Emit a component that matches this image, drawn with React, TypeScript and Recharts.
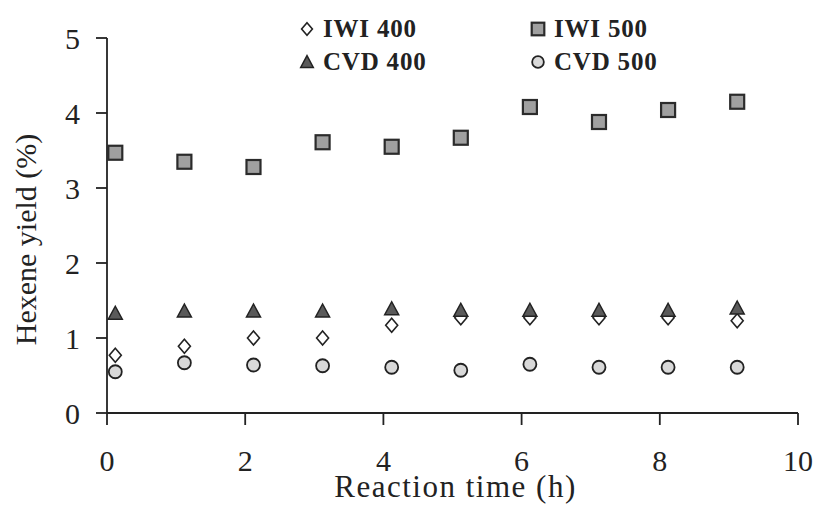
import React from "react";
import { ScatterChart, Scatter, XAxis, YAxis, Legend } from "recharts";

// reaction time (h) of each sample
const times = [0.12, 1.12, 2.12, 3.12, 4.12, 5.12, 6.12, 7.12, 8.12, 9.12];

// hexene yield (%)
const iwi400 = [0.77, 0.89, 1.0, 1.0, 1.17, 1.27, 1.27, 1.27, 1.27, 1.23];
const iwi500 = [3.47, 3.35, 3.28, 3.61, 3.55, 3.67, 4.08, 3.88, 4.04, 4.15];
const cvd400 = [1.33, 1.36, 1.36, 1.36, 1.39, 1.37, 1.37, 1.37, 1.37, 1.4];
const cvd500 = [0.55, 0.67, 0.64, 0.63, 0.61, 0.57, 0.65, 0.61, 0.61, 0.61];

const xTicks = [0, 2, 4, 6, 8, 10];
const yTicks = [0, 1, 2, 3, 4, 5];

const FONT = "Liberation Serif";
const INK = "#222";

function rows(ys: number[]) {
  return times.map((t, i) => ({ t, y: ys[i] }));
}

function Diamond({ cx, cy, s = 1 }: any) {
  return (
    <polygon
      points={`${cx},${cy - 7 * s} ${cx + 6 * s},${cy} ${cx},${cy + 7 * s} ${cx - 6 * s},${cy}`}
      fill="#fff"
      stroke={INK}
      strokeWidth={1.6}
    />
  );
}

function Square({ cx, cy, s = 1 }: any) {
  const h = 7 * s;
  return (
    <rect
      x={cx - h}
      y={cy - h}
      width={2 * h}
      height={2 * h}
      fill="#a0a0a0"
      stroke="#2b2b2b"
      strokeWidth={2.2}
    />
  );
}

function Triangle({ cx, cy, s = 1 }: any) {
  return (
    <polygon
      points={`${cx},${cy - 7 * s} ${cx + 7 * s},${cy + 6 * s} ${cx - 7 * s},${cy + 6 * s}`}
      fill="#5a5a5a"
      stroke={INK}
      strokeWidth={1.5}
    />
  );
}

function Circle({ cx, cy, s = 1 }: any) {
  return (
    <circle cx={cx} cy={cy} r={6.5 * s} fill="#d9d9d9" stroke={INK} strokeWidth={1.8} />
  );
}

const series = [
  { name: "IWI 400", data: iwi400, Shape: Diamond },
  { name: "IWI 500", data: iwi500, Shape: Square },
  { name: "CVD 400", data: cvd400, Shape: Triangle },
  { name: "CVD 500", data: cvd500, Shape: Circle },
];

function LegendBox() {
  // 2 x 2 grid, read row by row
  const cols = [17, 248];
  const rowsY = [29, 62];
  return (
    <svg width={480} height={80}>
      {series.map((s, i) => {
        const x = cols[i % 2];
        const y = rowsY[Math.floor(i / 2)];
        const Shape = s.Shape;
        return (
          <g key={s.name}>
            <Shape cx={x} cy={y} s={0.9} />
            <text
              x={x + 16}
              y={y + 8}
              style={{ fontFamily: FONT }}
              fontWeight="bold"
              fontSize={25}
              letterSpacing={0.8}
              fill={INK}
            >
              {s.name}
            </text>
          </g>
        );
      })}
    </svg>
  );
}

export default function App() {
  const tick = { fontSize: 30, fill: INK, style: { fontFamily: FONT } };
  const line = { stroke: INK, strokeWidth: 1.8 };
  return (
    <div
      style={{
        position: "absolute",
        left: 0,
        top: 0,
        width: 820,
        height: 518,
        background: "#fff",
        fontFamily: FONT,
      }}
    >
      <ScatterChart
        width={820}
        height={518}
        margin={{ top: 38, right: 22, left: 0, bottom: 0 }}
        style={{ fontFamily: FONT }}
      >
        <XAxis
          type="number"
          dataKey="t"
          domain={[0, 10]}
          ticks={xTicks}
          interval={0}
          height={105}
          tickSize={12}
          tickMargin={25}
          tick={tick}
          axisLine={line}
          tickLine={line}
          label={{
            content: ({ viewBox }: any) => (
              <text
                x={viewBox.x + viewBox.width / 2 + 3}
                y={viewBox.y + 84}
                textAnchor="middle"
                style={{ fontFamily: FONT }}
                fontSize={31}
                letterSpacing={1.5}
                fill={INK}
              >
                Reaction time (h)
              </text>
            ),
          }}
        />
        <YAxis
          type="number"
          dataKey="y"
          domain={[0, 5]}
          ticks={yTicks}
          interval={0}
          width={107}
          tickSize={11}
          tickMargin={16}
          tick={tick}
          axisLine={line}
          tickLine={line}
          label={{
            content: ({ viewBox }: any) => {
              const x = viewBox.x + 25;
              const y = viewBox.y + viewBox.height / 2 + 14;
              return (
                <text
                  x={x}
                  y={y}
                  transform={`rotate(-90 ${x} ${y})`}
                  textAnchor="middle"
                  dominantBaseline="central"
                  style={{ fontFamily: FONT }}
                  fontSize={30}
                  fill={INK}
                >
                  Hexene yield (%)
                </text>
              );
            },
          }}
        />
        <Legend
          layout="horizontal"
          verticalAlign="middle"
          content={() => <LegendBox />}
          wrapperStyle={{ top: 0, left: 290, width: 480, height: 80 }}
        />
        {series.map((s) => {
          const Shape = s.Shape;
          return (
            <Scatter
              key={s.name}
              name={s.name}
              data={rows(s.data)}
              isAnimationActive={false}
              shape={(p: any) => <Shape cx={p.cx} cy={p.cy} />}
            />
          );
        })}
      </ScatterChart>
    </div>
  );
}
